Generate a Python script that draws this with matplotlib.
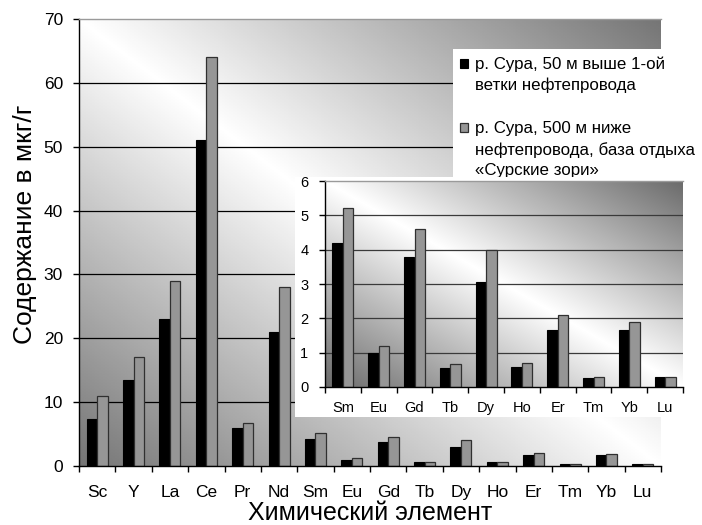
import numpy as np
import matplotlib
matplotlib.use("Agg")
import matplotlib.pyplot as plt
from matplotlib.patches import Rectangle

plt.rcParams['font.family'] = ['Liberation Sans', 'DejaVu Sans']

# ---- data ----
elements = ["Sc", "Y", "La", "Ce", "Pr", "Nd", "Sm", "Eu", "Gd", "Tb", "Dy", "Ho", "Er", "Tm", "Yb", "Lu"]
above_50m = [7.4, 13.5, 23.0, 51.0, 5.9, 21.0, 4.2, 1.0, 3.8, 0.55, 3.05, 0.58, 1.65, 0.25, 1.65, 0.28]
below_500m = [10.9, 17.0, 29.0, 64.0, 6.7, 28.0, 5.1, 1.2, 4.6, 0.67, 4.0, 0.7, 2.1, 0.3, 1.9, 0.3]

inset_elements = ["Sm", "Eu", "Gd", "Tb", "Dy", "Ho", "Er", "Tm", "Yb", "Lu"]
inset_above = [4.2, 1.0, 3.8, 0.56, 3.05, 0.59, 1.67, 0.26, 1.67, 0.29]
inset_below = [5.2, 1.2, 4.6, 0.68, 4.0, 0.71, 2.1, 0.3, 1.9, 0.3]

main_yticks = [0, 10, 20, 30, 40, 50, 60, 70]
inset_yticks = [0, 1, 2, 3, 4, 5, 6]

label_1 = "р. Сура, 50 м выше 1-ой\nветки нефтепровода"
label_2 = "р. Сура, 500 м ниже\nнефтепровода, база отдыха\n«Сурские зори»"
ylabel = "Содержание в мкг/г"
xlabel = "Химический элемент"

BLACK = "#000000"
GRAY = "#969696"
EDGE = "#303030"

W, H = 702, 525
fig = plt.figure(figsize=(W / 100, H / 100), dpi=100)
fig.patch.set_facecolor("white")


def fx(px):
    return px / W


def fy(py):
    return 1 - py / H


def gradient(ax, dark):
    n = 300
    x = np.linspace(0, 1, n)
    X, Y = np.meshgrid(x, x)
    d = np.abs(X + Y - 1)
    img = 1 - (1 - dark) * d
    ax.imshow(img, cmap="gray", vmin=0, vmax=1, extent=[0, 1, 0, 1],
              transform=ax.transAxes, origin="lower", aspect="auto",
              zorder=0, interpolation="bilinear")


def bar_chart(ax, cats, s1, s2, yticks, width, fs, grid_color, tick_len, pad_x, pad_y, dark):
    gradient(ax, dark)
    x = np.arange(len(cats))
    ax.bar(x - width / 2, s1, width, color=BLACK, edgecolor=BLACK, linewidth=0.8, zorder=2)
    ax.bar(x + width / 2, s2, width, color=GRAY, edgecolor=EDGE, linewidth=0.9, zorder=2)
    ax.set_xlim(-0.5, len(cats) - 0.5)
    ax.set_ylim(yticks[0], yticks[-1])
    for t in yticks[1:-1]:
        ax.axhline(t, color=grid_color, lw=0.9, zorder=0.5)
    ax.set_yticks(yticks)
    ax.set_xticks(x)
    ax.set_xticklabels(cats)
    ax.set_xticks(np.arange(len(cats) + 1) - 0.5, minor=True)
    ax.tick_params(axis="x", which="major", length=0, pad=pad_x, labelsize=fs)
    ax.tick_params(axis="x", which="minor", length=tick_len, width=1, color="black")
    ax.tick_params(axis="y", length=tick_len, width=1, pad=pad_y, labelsize=fs)
    ax.spines["right"].set_visible(False)
    ax.spines["top"].set_color("#9a9a9a")
    ax.spines["top"].set_linewidth(1.0)
    ax.spines["left"].set_linewidth(1.0)
    ax.spines["bottom"].set_linewidth(1.0)


# ---- main axes ----
ax = fig.add_axes([fx(79), fy(466), fx(661) - fx(79), fy(19) - fy(466)], zorder=1)
bar_chart(ax, elements, above_50m, below_500m, main_yticks, 0.29, 12.5, "black", 4.5, 14, 7, 0.46)
ax.set_ylabel(ylabel, fontsize=19)
ax.yaxis.set_label_coords(-0.093, 0.54)
ax.set_xlabel(xlabel, fontsize=18)
ax.xaxis.set_label_coords(0.5, -0.105)
ax.xaxis.label.set_va("center")
ax.yaxis.label.set_va("center")

# ---- legend box ----
lg = fig.add_axes([fx(453), fy(177), fx(702) - fx(453), fy(49) - fy(177)], zorder=3)
lg.set_xlim(0, 249)
lg.set_ylim(128, 0)
lg.set_facecolor("white")
lg.set_xticks([])
lg.set_yticks([])
for s in lg.spines.values():
    s.set_visible(False)
lg.add_patch(Rectangle((7, 10), 8, 8.5, facecolor=BLACK, edgecolor=BLACK, lw=0.8))
lg.add_patch(Rectangle((7, 74), 8, 8.5, facecolor=GRAY, edgecolor=EDGE, lw=0.9))
lg.text(22, 8, label_1, fontsize=12.2, va="top", ha="left", linespacing=1.42)
lg.text(22, 72.5, label_2, fontsize=12.2, va="top", ha="left", linespacing=1.42)

# ---- inset box ----
box = fig.add_axes([fx(295), fy(417), fx(684) - fx(295), fy(177) - fy(417)], zorder=4)
box.set_facecolor("white")
box.set_xticks([])
box.set_yticks([])
for s in box.spines.values():
    s.set_visible(False)

ins = fig.add_axes([fx(325), fy(387), fx(683) - fx(325), fy(181) - fy(387)], zorder=5)
bar_chart(ins, inset_elements, inset_above, inset_below, inset_yticks, 0.293, 10.5, "#3a3a3a", 4, 10, 8, 0.42)

fig.savefig("out.png", dpi=100)
